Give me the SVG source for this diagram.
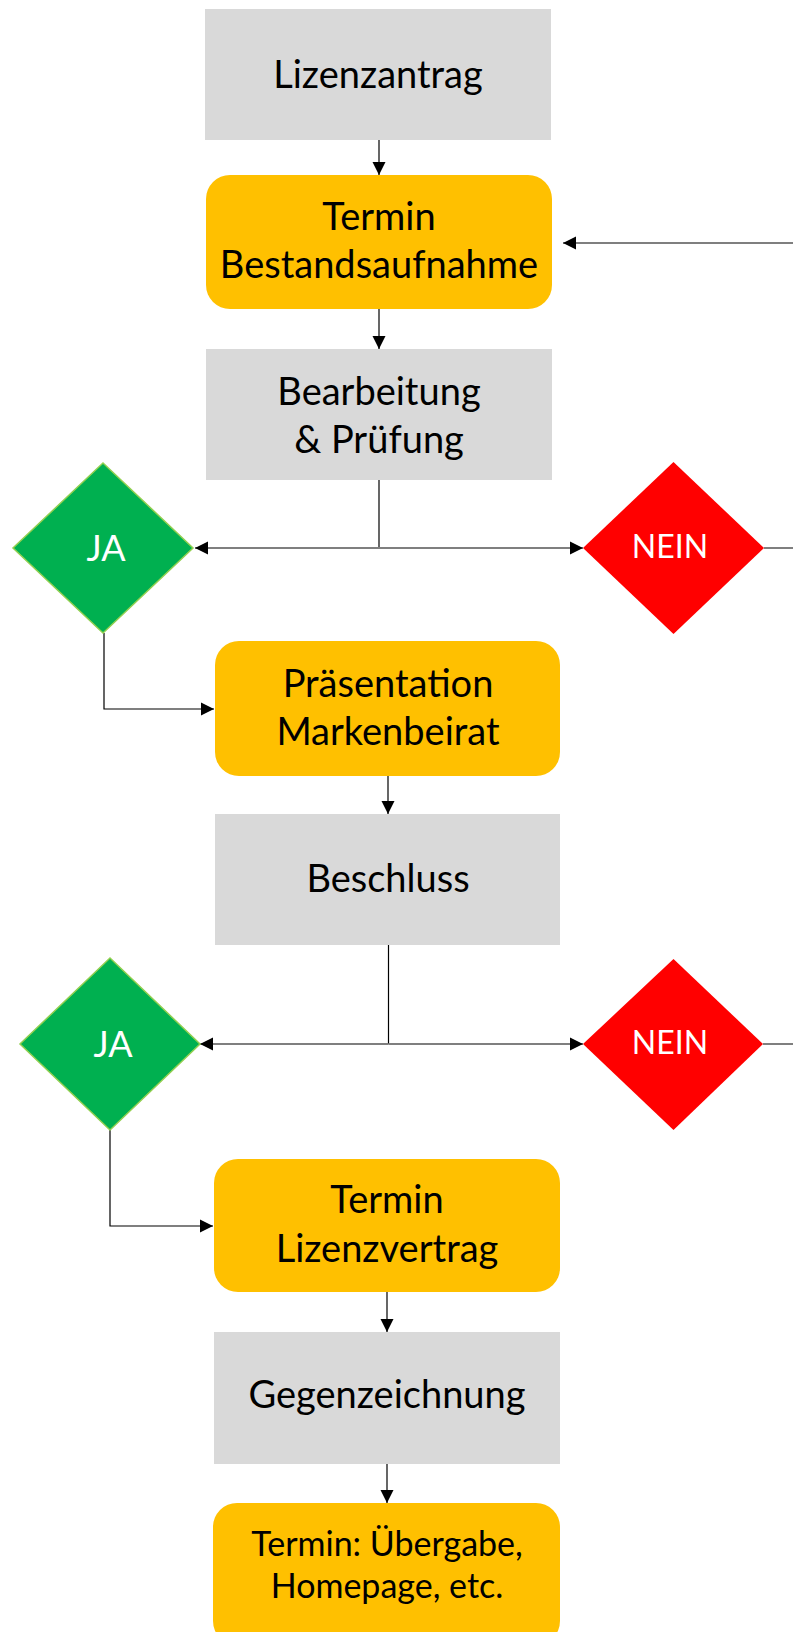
<svg xmlns="http://www.w3.org/2000/svg" width="793" height="1632" viewBox="0 0 793 1632">
<defs>
<marker id="arr" markerUnits="userSpaceOnUse" markerWidth="14" markerHeight="14" viewBox="0 0 14 14" refX="13" refY="7" orient="auto">
<path d="M0,0.5 L13,7 L0,13.5 Z" fill="#000"/>
</marker>
</defs>
<style>
.grey{fill:#D9D9D9}
.orange{fill:#FFC000}
.t{font-family:"Lato","Liberation Sans",sans-serif;font-size:38px;fill:#000;text-anchor:middle}
.t.s{font-size:34px}
.ja{fill:#00B050;stroke:#92D050;stroke-width:1.5}
.nein{fill:#FF0000}
.dt{font-family:"Lato","Liberation Sans",sans-serif;fill:#fff;text-anchor:middle}
.c{fill:none;stroke:#000;stroke-width:1.2}
.g{fill:none;stroke:#7F7F7F;stroke-width:2}
</style>
<rect width="793" height="1632" fill="#fff"/>
<g id="connectors">
<line class="c" x1="379" y1="140" x2="379" y2="175" marker-end="url(#arr)"/>
<line class="c" x1="379" y1="309" x2="379" y2="349" marker-end="url(#arr)"/>
<line class="c" x1="793" y1="243" x2="563" y2="243" marker-end="url(#arr)"/>
<line class="c" x1="379" y1="480" x2="379" y2="548"/>
<line class="g" x1="379" y1="548" x2="195" y2="548" marker-end="url(#arr)"/>
<line class="g" x1="379" y1="548" x2="583" y2="548" marker-end="url(#arr)"/>
<line class="g" x1="764" y1="548" x2="793" y2="548"/>
<path class="c" d="M104,633 V709 H214" marker-end="url(#arr)"/>
<line class="c" x1="388" y1="776" x2="388" y2="814" marker-end="url(#arr)"/>
<line class="c" x1="388.5" y1="945" x2="388.5" y2="1044"/>
<line class="g" x1="388.5" y1="1044" x2="200" y2="1044" marker-end="url(#arr)"/>
<line class="g" x1="388.5" y1="1044" x2="583" y2="1044" marker-end="url(#arr)"/>
<line class="g" x1="763" y1="1044" x2="793" y2="1044"/>
<path class="c" d="M110,1130 V1226 H213" marker-end="url(#arr)"/>
<line class="c" x1="387" y1="1292" x2="387" y2="1332" marker-end="url(#arr)"/>
<line class="c" x1="387" y1="1464" x2="387" y2="1503" marker-end="url(#arr)"/>
</g>
<g id="lizenzantrag">
<rect class="grey" x="205" y="9" width="346" height="131"/>
<text class="t" x="378" y="88">Lizenzantrag</text>
</g>
<g id="termin-bestandsaufnahme">
<rect class="orange" x="206" y="175" width="346" height="134" rx="24"/>
<text class="t" x="379" y="230">Termin</text>
<text class="t" x="379" y="278">Bestandsaufnahme</text>
</g>
<g id="bearbeitung">
<rect class="grey" x="206" y="349" width="346" height="131"/>
<text class="t" x="379" y="405">Bearbeitung</text>
<text class="t" x="379" y="453">&amp; Prüfung</text>
</g>
<g id="ja1">
<polygon class="ja" points="103,463 193,548 103,633 13,548"/>
<text class="dt" x="106" y="561" font-size="36">JA</text>
</g>
<g id="nein1">
<polygon class="nein" points="673.5,462 764,548 673.5,634 583,548"/>
<text class="dt" x="670" y="558" font-size="32">NEIN</text>
</g>
<g id="praesentation">
<rect class="orange" x="215" y="641" width="345" height="135" rx="24"/>
<text class="t" x="388" y="697">Präsentation</text>
<text class="t" x="388" y="745">Markenbeirat</text>
</g>
<g id="beschluss">
<rect class="grey" x="215" y="814" width="345" height="131"/>
<text class="t" x="388" y="892">Beschluss</text>
</g>
<g id="ja2">
<polygon class="ja" points="110,958 200,1044 110,1130 20,1044"/>
<text class="dt" x="113" y="1057" font-size="36">JA</text>
</g>
<g id="nein2">
<polygon class="nein" points="673.5,959 763,1044 673.5,1130 583,1044"/>
<text class="dt" x="670" y="1054" font-size="32">NEIN</text>
</g>
<g id="termin-lizenzvertrag">
<rect class="orange" x="214" y="1159" width="346" height="133" rx="24"/>
<text class="t" x="387" y="1213">Termin</text>
<text class="t" x="387" y="1262">Lizenzvertrag</text>
</g>
<g id="gegenzeichnung">
<rect class="grey" x="214" y="1332" width="346" height="132"/>
<text class="t" x="387" y="1408">Gegenzeichnung</text>
</g>
<g id="termin-uebergabe">
<rect class="orange" x="213" y="1503" width="347" height="142" rx="24"/>
<text class="t s" x="387" y="1556">Termin: Übergabe,</text>
<text class="t s" x="387" y="1598">Homepage, etc.</text>
</g>
</svg>
